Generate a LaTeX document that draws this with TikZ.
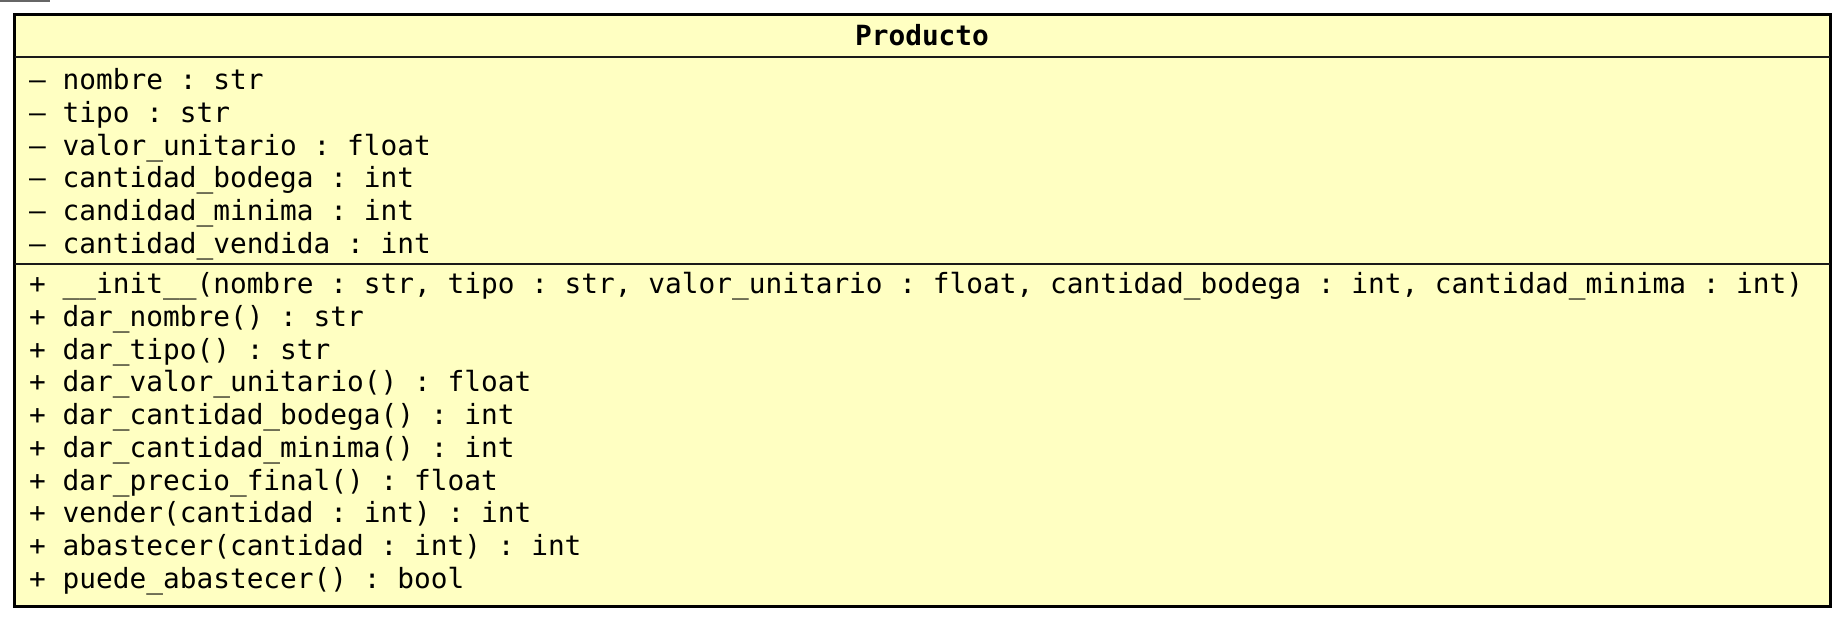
\documentclass[tikz,border=0pt]{standalone}
\usepackage{fontspec}
\newfontfamily\umlmono{DejaVu Sans Mono}
\newfontfamily\umlmonob{DejaVu Sans Mono Bold}
\definecolor{umlfill}{HTML}{FFFFC2}
\definecolor{umlline}{HTML}{1A1A1A}
\tikzset{
  classbox/.style={draw=black, line width=3pt, fill=umlfill},
  sepline/.style={draw=umlline, line width=1.3pt},
  member/.style={inner sep=0pt, anchor=base west, font=\frenchspacing\umlmono\fontsize{27.8}{32}\selectfont},
  classname/.style={inner sep=0pt, anchor=base, font=\frenchspacing\umlmonob\fontsize{27.8}{32}\selectfont},
}
\begin{document}
\begin{tikzpicture}[x=1pt,y=-1pt]
\useasboundingbox (0,0) rectangle (1842,619);
\fill[black!60] (0,0) rectangle (50,1.7);
\draw[classbox] (14.5,14.7) rectangle (1830,606);
\coordinate (s1l) at (14.5,57);
\coordinate (s1r) at (1830,57);
\coordinate (s2l) at (14.5,264);
\coordinate (s2r) at (1830,264);
\draw[sepline] (s1l) -- (s1r);
\draw[sepline] (s2l) -- (s2r);
\node[classname] (title) at (922,45.5) {Producto};
\node[member] (a1) at (29,89.5) {– nombre : str};
\node[member] (a2) at (29,122.25) {– tipo : str};
\node[member] (a3) at (29,155) {– valor\_unitario : float};
\node[member] (a4) at (29,187.75) {– cantidad\_bodega : int};
\node[member] (a5) at (29,220.5) {– candidad\_minima : int};
\node[member] (a6) at (29,253.25) {– cantidad\_vendida : int};
\node[member] (m1) at (29,293.5) {+ \_\_init\_\_(nombre : str, tipo : str, valor\_unitario : float, cantidad\_bodega : int, cantidad\_minima : int)};
\node[member] (m2) at (29,326.25) {+ dar\_nombre() : str};
\node[member] (m3) at (29,359) {+ dar\_tipo() : str};
\node[member] (m4) at (29,391.75) {+ dar\_valor\_unitario() : float};
\node[member] (m5) at (29,424.5) {+ dar\_cantidad\_bodega() : int};
\node[member] (m6) at (29,457.25) {+ dar\_cantidad\_minima() : int};
\node[member] (m7) at (29,490) {+ dar\_precio\_final() : float};
\node[member] (m8) at (29,522.75) {+ vender(cantidad : int) : int};
\node[member] (m9) at (29,555.5) {+ abastecer(cantidad : int) : int};
\node[member] (m10) at (29,588.25) {+ puede\_abastecer() : bool};
\end{tikzpicture}
\end{document}
